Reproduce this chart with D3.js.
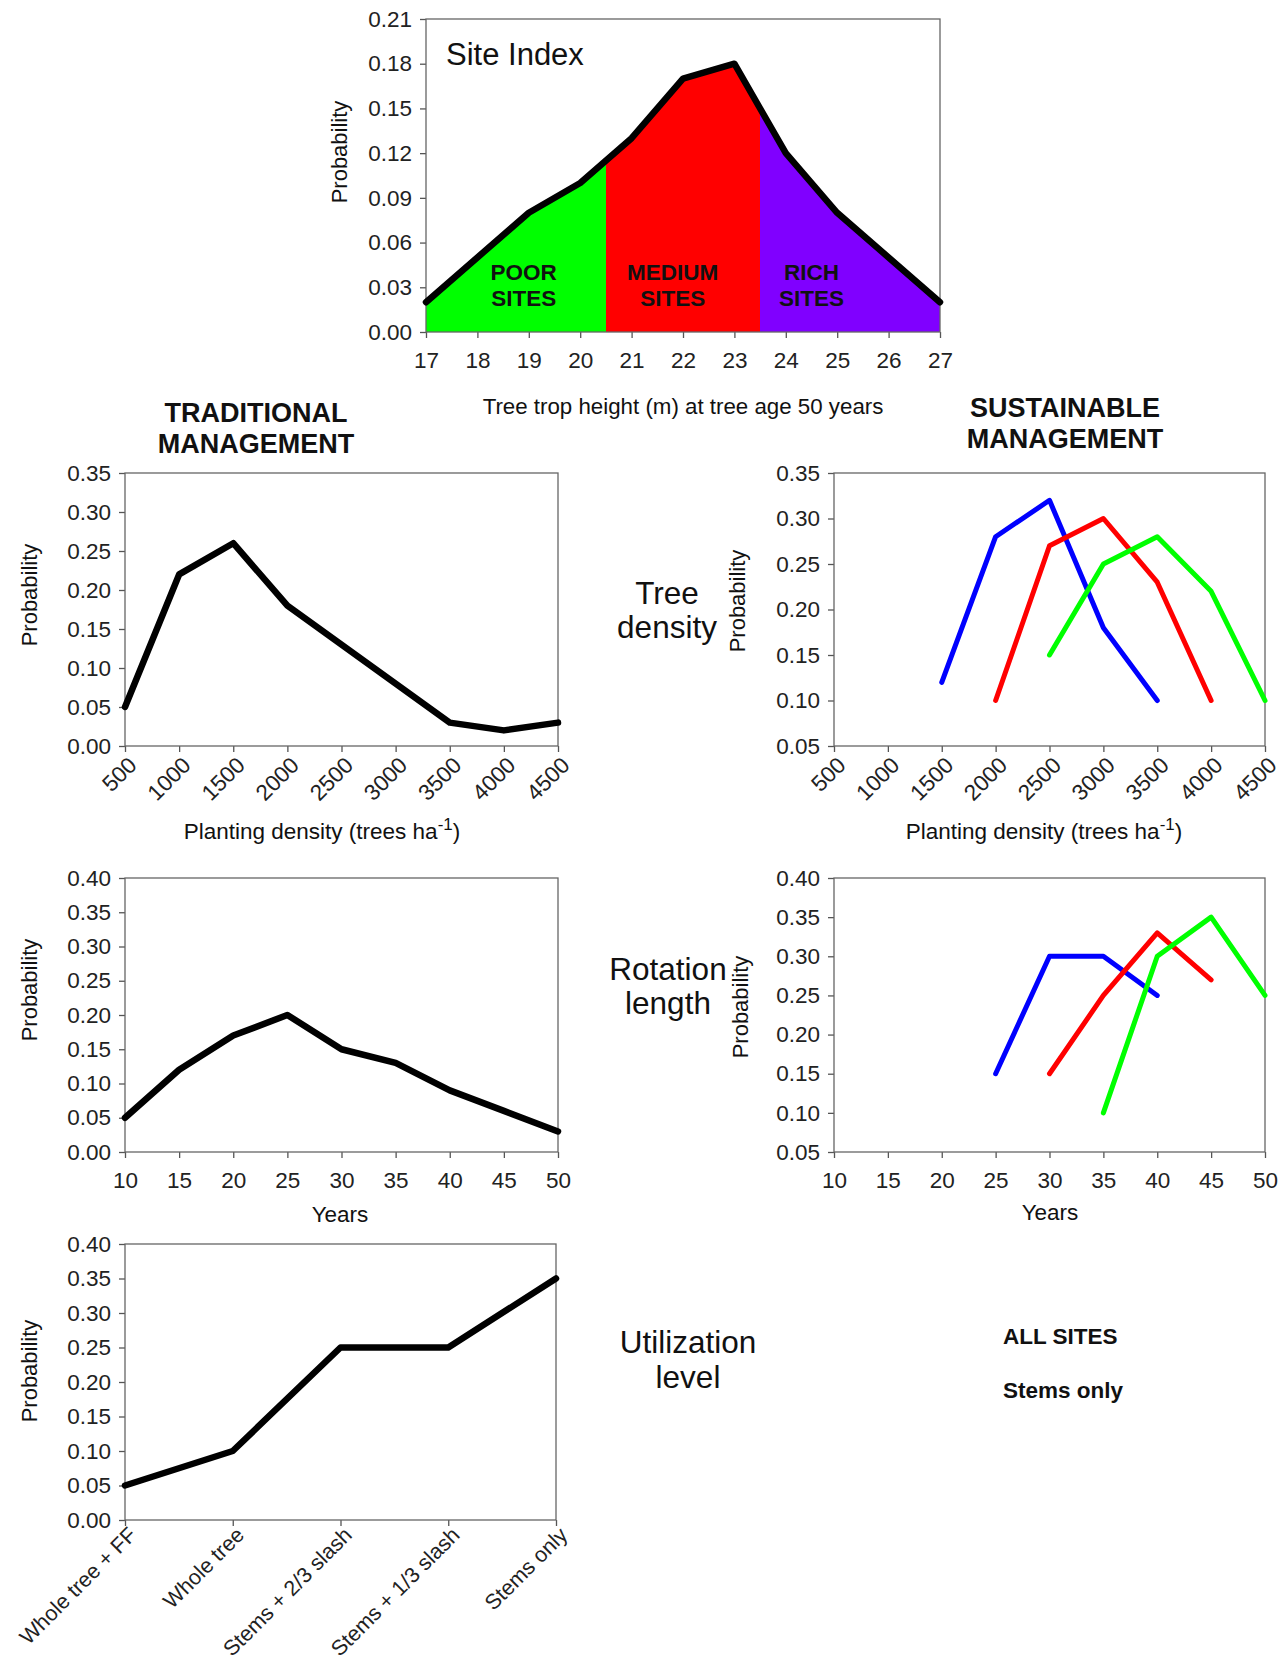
<!DOCTYPE html>
<html>
<head>
<meta charset="utf-8">
<script src="https://cdn.jsdelivr.net/npm/d3@7"></script>
<style>
  body { margin: 0; background: #fff; }
  svg text { font-family: "Liberation Sans", Arial, sans-serif; fill: #111; }
  .tick text { font-size: 22.5px; fill: #222; }
  .tick line { stroke: #555; stroke-width: 1.3; }
  .frame { fill: none; stroke: #666; stroke-width: 1.3; }
</style>
</head>
<body>
<div id="chart"></div>
<script>
// ---- data ----
var siteHeight = [17, 18, 19, 20, 21, 22, 23, 24, 25, 26, 27];
var siteProb   = [0.02, 0.05, 0.08, 0.10, 0.13, 0.17, 0.18, 0.12, 0.08, 0.05, 0.02];
var siteBreaks = [17, 20.5, 23.5, 27];
var siteClassNames = [["POOR", "SITES"], ["MEDIUM", "SITES"], ["RICH", "SITES"]];
var siteClassColors = ["#00ff00", "#ff0000", "#8000ff"];
var siteLabelX = [18.9, 21.8, 24.5];

var densityTicks = [500, 1000, 1500, 2000, 2500, 3000, 3500, 4000, 4500];
var tradDensity = [0.05, 0.22, 0.26, 0.18, 0.13, 0.08, 0.03, 0.02, 0.03];

var sustDensityX = {
  blue:  [1500, 2000, 2500, 3000, 3500],
  red:   [2000, 2500, 3000, 3500, 4000],
  green: [2500, 3000, 3500, 4000, 4500]
};
var sustDensityY = {
  blue:  [0.12, 0.28, 0.32, 0.18, 0.10],
  red:   [0.10, 0.27, 0.30, 0.23, 0.10],
  green: [0.15, 0.25, 0.28, 0.22, 0.10]
};

var yearTicks = [10, 15, 20, 25, 30, 35, 40, 45, 50];
var tradRotation = [0.05, 0.12, 0.17, 0.20, 0.15, 0.13, 0.09, 0.06, 0.03];

var sustRotationX = {
  blue:  [25, 30, 35, 40],
  red:   [30, 35, 40, 45],
  green: [35, 40, 45, 50]
};
var sustRotationY = {
  blue:  [0.15, 0.30, 0.30, 0.25],
  red:   [0.15, 0.25, 0.33, 0.27],
  green: [0.10, 0.30, 0.35, 0.25]
};

var utilLevels = ["Whole tree + FF", "Whole tree", "Stems + 2/3 slash", "Stems + 1/3 slash", "Stems only"];
var tradUtil = [0.05, 0.10, 0.25, 0.25, 0.35];

var seriesColors = { blue: "#0000ff", red: "#ff0000", green: "#00ff00" };

var W = 1286, H = 1667;
var svg = d3.select("#chart").append("svg").attr("width", W).attr("height", H);

// builds one framed panel with its axes
function panel(box, xScale, yScale, yTicks, yFmt, xTicks, xFmt, rotateX) {
  var g = svg.append("g");
  xScale.range([box.left, box.right]);
  yScale.range([box.bottom, box.top]);

  var ya = g.append("g").attr("transform", "translate(" + box.left + ",0)")
    .call(d3.axisLeft(yScale).tickValues(yTicks).tickFormat(yFmt).tickSize(6).tickPadding(8));
  ya.select(".domain").remove();

  var xa = g.append("g").attr("transform", "translate(0," + box.bottom + ")")
    .call(d3.axisBottom(xScale).tickValues(xTicks).tickFormat(xFmt).tickSize(6).tickPadding(14));
  xa.select(".domain").remove();
  if (rotateX) {
    xa.selectAll(".tick text")
      .attr("text-anchor", "end")
      .attr("x", 0).attr("y", 0)
      .attr("dy", "0.35em")
      .attr("transform", "translate(7,15) rotate(-45)");
  }

  g.append("rect").attr("class", "frame")
    .attr("x", box.left).attr("y", box.top)
    .attr("width", box.right - box.left).attr("height", box.bottom - box.top);
  g.xAxis = xa;
  return g;
}

function yLabel(x, y) {
  svg.append("text").attr("transform", "translate(" + x + "," + y + ") rotate(-90)")
    .attr("text-anchor", "middle").attr("font-size", 22).text("Probability");
}

function label(x, y, str, size, bold, anchor) {
  svg.append("text").attr("x", x).attr("y", y)
    .attr("text-anchor", anchor || "middle")
    .attr("font-size", size)
    .attr("font-weight", bold ? "bold" : "normal")
    .text(str);
}

function drawLine(g, x, y, xs, ys, color, width) {
  var line = d3.line().x(function(d){ return x(d[0]); }).y(function(d){ return y(d[1]); });
  g.append("path").datum(d3.zip(xs, ys))
    .attr("d", line)
    .attr("fill", "none")
    .attr("stroke", color)
    .attr("stroke-width", width)
    .attr("stroke-linejoin", "round")
    .attr("stroke-linecap", "round");
}

var f2 = d3.format(".2f");

// ---- top: site index ----
var sx = d3.scaleLinear().domain([17, 27]);
var sy = d3.scaleLinear().domain([0, 0.21]);
var topBox = {left: 426, right: 940, top: 19, bottom: 332};
sx.range([topBox.left, topBox.right]); sy.range([topBox.bottom, topBox.top]);

var area = d3.area().x(function(d){ return sx(d[0]); }).y0(sy(0)).y1(function(d){ return sy(d[1]); });
var defs = svg.append("defs");
siteClassColors.forEach(function(c, i) {
  defs.append("clipPath").attr("id", "clip" + i).append("rect")
    .attr("x", sx(siteBreaks[i])).attr("y", topBox.top)
    .attr("width", sx(siteBreaks[i + 1]) - sx(siteBreaks[i]))
    .attr("height", topBox.bottom - topBox.top);
  svg.append("path").datum(d3.zip(siteHeight, siteProb))
    .attr("d", area).attr("fill", c).attr("clip-path", "url(#clip" + i + ")");
});
var gTop = panel(topBox, sx, sy, d3.range(0, 0.2101, 0.03), f2, siteHeight, d3.format("d"), false);
drawLine(gTop, sx, sy, siteHeight, siteProb, "#000", 6.5);
siteClassNames.forEach(function(n, i) {
  label(sx(siteLabelX[i]), 280, n[0], 22.5, true);
  label(sx(siteLabelX[i]), 306, n[1], 22.5, true);
});
label(446, 65, "Site Index", 31, false, "start");
yLabel(347, 152);
label(683, 414, "Tree trop height (m) at tree age 50 years", 22.3, false);

// ---- section titles ----
label(256, 422, "TRADITIONAL", 27, true);
label(256, 453, "MANAGEMENT", 27, true);
label(1065, 417, "SUSTAINABLE", 27, true);
label(1065, 448, "MANAGEMENT", 27, true);

// ---- tree density ----
var leftBox1 = {left: 125, right: 558, top: 473, bottom: 746};
var rightBox1 = {left: 834, right: 1265, top: 473, bottom: 746};
var dxL = d3.scaleLinear().domain([500, 4500]);
var dyL = d3.scaleLinear().domain([0, 0.35]);
var g1 = panel(leftBox1, dxL, dyL, d3.range(0, 0.3501, 0.05), f2, densityTicks, d3.format("d"), true);
drawLine(g1, dxL, dyL, densityTicks, tradDensity, "#000", 6.5);
yLabel(37, 595);

var dxR = d3.scaleLinear().domain([500, 4500]);
var dyR = d3.scaleLinear().domain([0.05, 0.35]);
var g2 = panel(rightBox1, dxR, dyR, d3.range(0.05, 0.3501, 0.05), f2, densityTicks, d3.format("d"), true);
["blue", "red", "green"].forEach(function(k) {
  drawLine(g2, dxR, dyR, sustDensityX[k], sustDensityY[k], seriesColors[k], 5);
});
yLabel(745, 601);

function densityTitle(cx, y) {
  var t = svg.append("text").attr("x", cx).attr("y", y).attr("text-anchor", "middle").attr("font-size", 22.5);
  t.append("tspan").text("Planting density (trees ha");
  t.append("tspan").attr("font-size", 17).attr("dy", -9).text("-1");
  t.append("tspan").attr("dy", 9).text(")");
}
densityTitle(322, 839);
densityTitle(1044, 839);

label(667, 604, "Tree", 31.5, false);
label(667, 638, "density", 31.5, false);

// ---- rotation length ----
var leftBox2 = {left: 125, right: 558, top: 878, bottom: 1152};
var rightBox2 = {left: 834, right: 1265, top: 878, bottom: 1152};
var rxL = d3.scaleLinear().domain([10, 50]);
var ryL = d3.scaleLinear().domain([0, 0.40]);
var g3 = panel(leftBox2, rxL, ryL, d3.range(0, 0.4001, 0.05), f2, yearTicks, d3.format("d"), false);
drawLine(g3, rxL, ryL, yearTicks, tradRotation, "#000", 6.5);
yLabel(37, 990);
label(340, 1222, "Years", 22.5, false);

var rxR = d3.scaleLinear().domain([10, 50]);
var ryR = d3.scaleLinear().domain([0.05, 0.40]);
var g4 = panel(rightBox2, rxR, ryR, d3.range(0.05, 0.4001, 0.05), f2, yearTicks, d3.format("d"), false);
["blue", "red", "green"].forEach(function(k) {
  drawLine(g4, rxR, ryR, sustRotationX[k], sustRotationY[k], seriesColors[k], 5);
});
yLabel(748, 1007);
label(1050, 1220, "Years", 22.5, false);

label(668, 980, "Rotation", 31.5, false);
label(668, 1014, "length", 31.5, false);

// ---- utilization level ----
var leftBox3 = {left: 125, right: 556, top: 1244, bottom: 1520};
var ux = d3.scalePoint().domain(utilLevels).padding(0);
var uy = d3.scaleLinear().domain([0, 0.40]);
var g5 = panel(leftBox3, ux, uy, d3.range(0, 0.4001, 0.05), f2, utilLevels, function(d){ return d; }, true);
// long category names: keep them inside the page
g5.xAxis.selectAll(".tick text")
  .style("font-size", "21.5px")
  .attr("transform", "translate(7,11) rotate(-45)");
drawLine(g5, ux, uy, utilLevels, tradUtil, "#000", 6.5);
yLabel(37, 1371);

label(688, 1353, "Utilization", 31.5, false);
label(688, 1388, "level", 31.5, false);

label(1003, 1344, "ALL SITES", 22.5, true, "start");
label(1003, 1398, "Stems only", 22.5, true, "start");
</script>
</body>
</html>
